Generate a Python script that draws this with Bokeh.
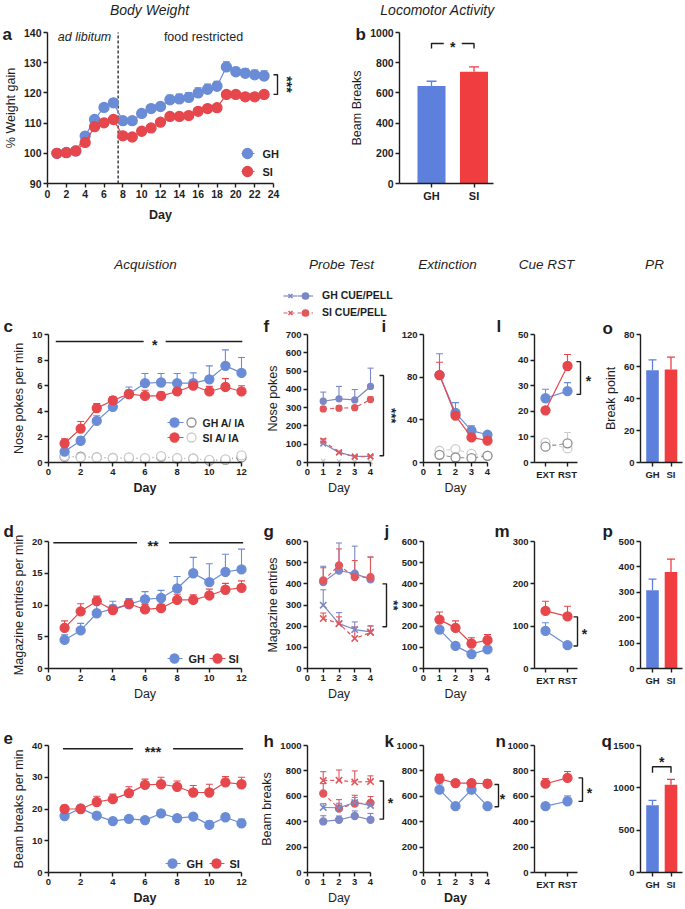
import math
from bokeh.plotting import figure
from bokeh.models import (Range1d, Whisker, ColumnDataSource, Label, Legend, LegendItem,
                          TeeHead, FixedTicker)
from bokeh.layouts import column, row
from bokeh.embed import file_html
from bokeh.resources import INLINE
from bokeh.core.properties import value

FONT = "Liberation Sans"
INK = "#1e1e1e"
BLUE = "#6a8cd6"
RED = "#e5474c"
BLUE_BAR = "#5d80dc"
RED_BAR = "#f03d40"
BLUE_P = "#7c87c6"
RED_P = "#e0585c"
GREY_D = "#8e8e8e"
GREY_L = "#cdcdcd"

# ---------------- data ----------------
days23 = list(range(1, 24))
days12 = list(range(1, 13))
days4 = [1, 2, 3, 4]
phase_pos = [0, 1]
phase_labels = ["EXT", "RST"]
group_pos = [0, 1]
group_labels = ["GH", "SI"]
switch_day = 7.5

# a: body weight
bw_gh = [100.0, 100.3, 100.8, 105.7, 111.2, 115.2, 116.7, 110.8, 110.8, 113.2, 114.8, 115.5,
         117.7, 118.0, 118.5, 120.0, 121.2, 122.2, 128.6, 127.0, 126.5, 126.0, 125.6]
bw_gh_err = [0.3, 0.5, 0.6, 0.8, 1.0, 1.2, 1.1, 0.9, 0.9, 1.1, 1.2, 1.3,
             1.6, 1.6, 1.6, 1.7, 1.7, 1.6, 1.7, 1.5, 1.5, 1.6, 1.7]
bw_si = [100.0, 100.2, 100.8, 103.6, 108.8, 110.1, 111.2, 105.8, 105.4, 107.3, 108.4, 110.3,
         112.2, 112.2, 112.5, 113.9, 114.8, 115.1, 119.5, 119.5, 118.7, 118.7, 119.5]
bw_si_err = [0.2, 0.4, 0.5, 0.7, 0.8, 0.8, 0.8, 0.7, 0.7, 0.7, 0.8, 0.8,
             0.8, 0.8, 0.8, 0.8, 0.8, 0.8, 0.9, 0.8, 0.8, 0.8, 0.8]

# b: locomotor
loco = [645, 740]
loco_err = [32, 32]

# c: acquisition nose pokes
c_gh = [0.85, 1.7, 3.25, 4.35, 5.35, 6.2, 6.25, 6.2, 6.2, 6.5, 7.55, 7.0]
c_gh_err = [0.3, 0.3, 0.4, 0.4, 0.55, 0.75, 0.7, 0.75, 0.8, 1.05, 1.25, 1.2]
c_si = [1.5, 2.65, 4.25, 4.85, 5.35, 5.2, 5.2, 5.55, 6.0, 5.55, 5.9, 5.55]
c_si_err = [0.35, 0.55, 0.35, 0.3, 0.3, 0.45, 0.3, 0.35, 0.3, 0.4, 0.65, 0.45]
c_gh_ia = [0.45, 0.45, 0.4, 0.35, 0.35, 0.3, 0.45, 0.3, 0.3, 0.15, 0.2, 0.4]
c_si_ia = [0.5, 0.4, 0.4, 0.35, 0.4, 0.35, 0.5, 0.35, 0.3, 0.2, 0.25, 0.55]

# d: magazine entries
d_gh = [4.5, 6.0, 8.7, 9.4, 10.1, 10.9, 11.1, 12.6, 15.0, 13.6, 15.2, 15.6]
d_gh_err = [0.8, 1.1, 1.6, 1.2, 0.9, 1.2, 1.2, 1.9, 2.5, 2.9, 2.8, 3.2]
d_si = [6.4, 9.0, 10.6, 9.2, 10.2, 9.3, 9.5, 10.8, 10.8, 11.5, 12.4, 12.7]
d_si_err = [1.1, 1.2, 0.8, 0.8, 0.6, 0.8, 0.6, 0.9, 0.8, 1.0, 1.0, 1.1]

# e: beam breaks
e_gh = [17.8, 20.2, 17.9, 16.2, 16.9, 16.5, 18.6, 17.1, 17.6, 15.0, 17.4, 15.5]
e_gh_err = [0.9, 1.0, 0.9, 0.8, 0.8, 0.8, 1.0, 0.9, 0.8, 1.2, 1.2, 1.3]
e_si = [20.0, 20.0, 22.2, 23.1, 25.0, 27.6, 27.8, 27.0, 25.2, 25.2, 28.4, 27.8]
e_si_err = [1.2, 1.0, 1.8, 1.6, 2.0, 1.8, 2.2, 1.8, 2.2, 2.6, 1.8, 2.2]

# f: probe test nose pokes
f_gh_pell = [335, 348, 342, 416]
f_gh_pell_err = [50, 68, 57, 100]
f_si_pell = [293, 297, 300, 344]
f_si_pell_err = [12, 12, 10, 15]
f_gh_cue = [104, 55, 33, 33]
f_gh_cue_err = [8, 5, 4, 4]
f_si_cue = [119, 55, 31, 33]
f_si_cue_err = [10, 6, 4, 4]
f_inactive = [8, 7, 4, 3]

# g: probe test magazine entries
g_gh_pell = [408, 463, 448, 421]
g_gh_pell_err = [75, 130, 130, 105]
g_si_pell = [416, 487, 432, 432]
g_si_pell_err = [60, 78, 78, 95]
g_gh_cue = [299, 212, 184, 173]
g_gh_cue_err = [73, 52, 36, 28]
g_si_cue = [236, 212, 142, 170]
g_si_cue_err = [26, 32, 54, 31]

# h: probe test beam breaks
h_gh_pell = [402, 415, 445, 415]
h_gh_pell_err = [45, 30, 40, 50]
h_si_pell = [622, 504, 543, 548]
h_si_pell_err = [78, 70, 65, 50]
h_gh_cue = [512, 510, 551, 528]
h_gh_cue_err = [30, 35, 40, 35]
h_si_cue = [724, 727, 712, 716]
h_si_cue_err = [70, 80, 88, 45]

# i: extinction nose pokes
i_gh = [82, 46.6, 29.9, 26]
i_gh_err = [20, 9.5, 4.5, 2.5]
i_si = [82, 44, 23.6, 20.5]
i_si_err = [12, 5, 2, 2]
i_gh_ia = [7.2, 4.7, 4.1, 6.3]
i_si_ia = [11, 12.6, 8, 6.5]

# j: extinction magazine entries
j_gh = [184, 107, 68, 90]
j_gh_err = [8, 8, 6, 10]
j_si = [231, 192, 118, 134]
j_si_err = [36, 33, 27, 26]

# k: extinction beam breaks
k_gh = [652, 522, 652, 522]
k_gh_err = [45, 15, 40, 15]
k_si = [738, 704, 704, 699]
k_si_err = [35, 25, 25, 30]

# l: cue reinstatement nose pokes
l_gh = [25.1, 27.9]
l_gh_err = [3.5, 3.3]
l_si = [20.4, 37.7]
l_si_err = [1.0, 4.5]
l_gh_ia = [6.2, 7.5]
l_gh_ia_err = [2.2, 4.2]
l_si_ia = [7.8, 5.5]

# m: cue reinstatement magazine entries
m_gh = [89, 55]
m_gh_err = [19, 4]
m_si = [136, 123]
m_si_err = [23, 24]

# n: cue reinstatement beam breaks
n_gh = [522, 561]
n_gh_err = [12, 42]
n_si = [699, 745]
n_si_err = [40, 50]

# o, p, q: progressive ratio
o_vals = [57.6, 58.2]
o_err = [6.6, 7.7]
p_vals = [308, 380]
p_err = [44, 51]
q_vals = [793, 1037]
q_err = [59, 62]


# ---------------- helpers ----------------
def style_axis(ax, tick_size):
    ax.axis_line_color = INK
    ax.axis_line_width = 1.4
    ax.major_tick_line_color = INK
    ax.major_tick_line_width = 1.4
    ax.major_tick_out = 4
    ax.major_tick_in = 0
    ax.minor_tick_line_color = None
    ax.major_label_text_font = FONT
    ax.major_label_text_font_size = tick_size
    ax.major_label_text_font_style = "bold"
    ax.major_label_text_color = INK
    ax.major_label_standoff = 2
    ax.axis_label_text_font = FONT
    ax.axis_label_text_font_size = "12.5px"
    ax.axis_label_text_font_style = "normal"
    ax.axis_label_text_color = INK
    ax.axis_label_standoff = 3


class Panel:
    """One strip of the page; axes are pinned inside the frame with fixed_location."""

    def __init__(self, strip, xmap, ymap, xbounds, ybounds, xticks, yticks,
                 xlabel=None, ylabel=None, xlabel_bold=False, xtick_text=None,
                 tick_size="9.5px"):
        self.sx0, self.sy0, self.sx1, self.sy1 = strip
        dx0, px0, dx1, px1 = xmap
        dy0, py0, dy1, py1 = ymap
        self.kx = (px1 - px0) / (dx1 - dx0)
        self.ky = (py0 - py1) / (dy1 - dy0)
        self.dx0, self.px0, self.dy0, self.py0 = dx0, px0, dy0, py0
        p = figure(width=self.sx1 - self.sx0, height=self.sy1 - self.sy0,
                   x_range=Range1d(self.dx(self.sx0), self.dx(self.sx1)),
                   y_range=Range1d(self.dy(self.sy1), self.dy(self.sy0)),
                   min_border_left=0, min_border_right=0,
                   min_border_top=0, min_border_bottom=0,
                   output_backend="svg", toolbar_location=None, title=None)
        p.outline_line_color = None
        p.xgrid.visible = False
        p.ygrid.visible = False
        p.background_fill_color = "white"
        p.border_fill_color = "white"
        xa, ya = p.xaxis[0], p.yaxis[0]
        style_axis(xa, tick_size)
        style_axis(ya, tick_size)
        xa.ticker = FixedTicker(ticks=list(xticks))
        ya.ticker = FixedTicker(ticks=list(yticks))
        xa.bounds = xbounds
        ya.bounds = ybounds
        xa.fixed_location = ybounds[0]
        ya.fixed_location = xbounds[0]
        if xtick_text:
            xa.major_label_overrides = {t: s for t, s in zip(xticks, xtick_text)}
        if xlabel:
            xa.axis_label = xlabel
            xa.axis_label_text_font_style = "bold" if xlabel_bold else "normal"
        if ylabel:
            ya.axis_label = ylabel
        self.p = p

    def dx(self, X):
        return self.dx0 + (X - self.px0) / self.kx

    def dy(self, Y):
        return self.dy0 + (self.py0 - Y) / self.ky

    def text(self, X, Y, s, size="12px", style="normal", align="center", baseline="middle",
             angle=0.0, color=INK):
        self.p.add_layout(Label(x=X - self.sx0, y=self.sy1 - Y, x_units="screen",
                                y_units="screen", text=s, text_font=FONT, text_font_size=size,
                                text_font_style=style, text_align=align,
                                text_baseline=baseline, angle=angle, text_color=color))

    def star(self, x, y, s, angle=0.0, size="14px"):
        self.p.add_layout(Label(x=x, y=y, text=s, text_font=FONT, text_font_size=size,
                                text_font_style="bold", text_align="center",
                                text_baseline="middle", angle=angle, text_color=INK,
                                y_offset=-3 if angle == 0 else 0))

    def err(self, x, y, e, color, cap=7, lw=1.1):
        src = ColumnDataSource(dict(x=list(x), lo=list(y), hi=[a + b for a, b in zip(y, e)]))
        self.p.add_layout(Whisker(base="x", lower="lo", upper="hi", source=src,
                                  line_color=color, line_width=lw, level="underlay",
                                  upper_head=TeeHead(size=cap, line_color=color, line_width=lw),
                                  lower_head=None))

    def series(self, x, y, e, color, marker="circle", size=9, dash="solid", fill=True,
               lw=1.2, cap=7, ecolor=None, line_color=None):
        if e is not None:
            self.err(x, y, e, ecolor or color, cap=cap)
        rl = self.p.line(x, y, line_color=line_color or color, line_width=lw, line_dash=dash)
        if marker == "x":
            rs = self.p.scatter(x, y, marker="x", size=size, line_color=color, line_width=1.6)
        else:
            rs = self.p.scatter(x, y, marker=marker, size=size,
                                fill_color=color if fill else "white",
                                line_color=color, line_width=1.3)
        return rl, rs

    def bars(self, vals, errs, width, cap=9):
        self.p.vbar(x=group_pos, top=vals, width=width,
                    fill_color=[BLUE_BAR, RED_BAR], line_color=None)
        for gx, v, e, c in zip(group_pos, vals, errs, [BLUE_BAR, RED_BAR]):
            self.err([gx], [v], [e], c, cap=cap, lw=1.3)

    def bracket(self, x, y1, y2, tick_px=4):
        d = tick_px / self.kx
        self.p.line([x - d, x, x, x - d], [y1, y1, y2, y2], line_color=INK, line_width=1.4)

    def hbracket(self, x1, x2, y, tick_px=5, gap_px=0):
        d = tick_px / self.ky
        if gap_px:
            g = gap_px / self.kx
            m = (x1 + x2) / 2
            self.p.line([x1, x1, m - g], [y - d, y, y], line_color=INK, line_width=1.4)
            self.p.line([m + g, x2, x2], [y, y, y - d], line_color=INK, line_width=1.4)
        else:
            self.p.line([x1, x1, x2, x2], [y - d, y, y, y - d], line_color=INK, line_width=1.4)

    def key(self, X1, X2, Xc, Y, color, size=9, fill=True, dash="solid"):
        y = self.dy(Y)
        self.p.line([self.dx(X1), self.dx(X2)], [y, y], line_color=color, line_width=1.2,
                    line_dash=dash)
        self.p.scatter([self.dx(Xc)], [y], marker="circle", size=size,
                       fill_color=color if fill else "white", line_color=color, line_width=1.3)


def letter(panel, X, Y, s):
    panel.text(X, Y, s, size="17px", style="bold", align="left", baseline="top")


def sigline(panel, x1, x2, y, gap_x, s):
    m = (x1 + x2) / 2 if gap_x is None else gap_x
    g = 11 / panel.kx if len(s) == 1 else (8 + 4 * len(s)) / panel.kx
    panel.p.line([x1, m - g], [y, y], line_color=INK, line_width=1.4)
    panel.p.line([m + g, x2], [y, y], line_color=INK, line_width=1.4)
    panel.star(m, y, s)


# strip boundaries (page pixels) between probe-test / extinction / cue-RST columns
S2, S3, S4 = 399, 400, 396
T2, T3, T4 = 512, 512, 507

# ---------------- row 1 ----------------
A = Panel((0, 0, 345, 228), (0, 47, 24, 273), (90, 183, 140, 32),
          (0, 24), (90, 140), range(0, 25, 2), range(90, 141, 10),
          xlabel="Day", ylabel="% Weight gain", xlabel_bold=True, tick_size="10.5px")
A.p.xaxis[0].axis_label_standoff = 7
A.p.line([switch_day, switch_day], [90, 140], line_color=INK, line_dash="3 2", line_width=1.3)
A.series(days23, bw_gh, bw_gh_err, BLUE, size=10, cap=7)
A.series(days23, bw_si, bw_si_err, RED, size=10, cap=7)
A.bracket(A.dx(277), 126.0, 119.5)
A.star(A.dx(286), 122.8, "***", angle=-math.pi / 2, size="14px")
A.text(149, 9, "Body Weight", size="14px", style="italic")
A.text(84, 36, "ad libitum", size="12.5px", style="italic")
A.text(203, 36, "food restricted", size="12.5px")
A.key(241, 254, 247, 153, BLUE, size=10)
A.key(241, 254, 247, 171, RED, size=10)
A.text(262, 153, "GH", size="11px", style="bold", align="left")
A.text(262, 171, "SI", size="11px", style="bold", align="left")
letter(A, 2, 24, "a")

B = Panel((345, 0, 685, 228), (0, 431, 1, 473.5), (0, 183, 1000, 32),
          (-0.75, 1.45), (0, 1000), group_pos, range(0, 1001, 200),
          ylabel="Beam Breaks", xtick_text=group_labels, tick_size="10.5px")
B.p.xaxis[0].major_label_text_font_size = "11px"
B.bars(loco, loco_err, 0.66, cap=10)
B.hbracket(0, 1, 927, tick_px=5, gap_px=9)
B.star(0.5, 927, "*")
B.text(437, 9, "Locomotor Activity", size="14px", style="italic")
letter(B, 355, 24, "b")

# ---------------- row 2 ----------------
C = Panel((0, 228, 250, 500), (0, 48, 12, 241), (0, 462, 10, 334),
          (0, 12), (0, 10), range(0, 13, 2), range(0, 11, 2),
          xlabel="Day", ylabel="Nose pokes per min", xlabel_bold=True)
C.series(days12, c_gh_ia, None, GREY_D, size=9, fill=False, dash="1 3", lw=1.0)
C.series(days12, c_si_ia, None, GREY_L, size=9, fill=False, dash="1 3", lw=1.0)
C.series(days12, c_gh, c_gh_err, BLUE, size=9)
C.series(days12, c_si, c_si_err, RED, size=9)
sigline(C, 0.45, 12.05, 9.45, 6.6, "*")
C.key(167, 183, 174, 422, BLUE, size=9)
C.key(187, 195, 191, 422, GREY_D, size=9, fill=False, dash="1 3")
C.text(202, 422, "GH A/ IA", size="10.5px", style="bold", align="left")
C.key(167, 183, 174, 437, RED, size=9)
C.key(187, 195, 191, 437, GREY_L, size=9, fill=False, dash="1 3")
C.text(202, 437, "SI A/ IA", size="10.5px", style="bold", align="left")
C.text(145, 264, "Acquistion", size="13.5px", style="italic")
letter(C, 3, 316, "c")

F = Panel((250, 228, S2, 500), (0, 307, 4, 370), (0, 462, 700, 334),
          (0, 4), (0, 700), range(0, 5), range(0, 701, 100),
          xlabel="Day", ylabel="Nose pokes")
F.p.scatter(days4, f_inactive, marker="x", size=6, line_color=GREY_L, line_width=1.3)
f_ghp = F.series(days4, f_gh_pell, f_gh_pell_err, BLUE_P, size=6, cap=6)
f_sip = F.series(days4, f_si_pell, f_si_pell_err, RED_P, size=6, dash="4 3", cap=6)
f_ghc = F.series(days4, f_gh_cue, f_gh_cue_err, BLUE_P, marker="x", size=8, cap=6)
f_sic = F.series(days4, f_si_cue, f_si_cue_err, RED_P, marker="x", size=8, dash="4 3", cap=6)
F.bracket(F.dx(383), 476, 37)
F.star(F.dx(391), 256, "***", angle=-math.pi / 2, size="13px")
F.text(341, 264, "Probe Test", size="13.5px", style="italic")
legA = Legend(items=[LegendItem(label=value(""), renderers=list(f_ghc)),
                     LegendItem(label=value(""), renderers=list(f_sic))],
              location=(283 - F.sx0, F.sy1 - 320.5), glyph_width=14, glyph_height=17,
              label_height=17, label_width=0, label_standoff=0, spacing=0, padding=0, margin=0,
              border_line_color=None, background_fill_alpha=0)
legB = Legend(items=[LegendItem(label="GH CUE/PELL", renderers=list(f_ghp)),
                     LegendItem(label="SI CUE/PELL", renderers=list(f_sip))],
              location=(297 - F.sx0, F.sy1 - 320.5), glyph_width=16, glyph_height=17,
              label_height=17, label_standoff=9, spacing=0, padding=0, margin=0,
              border_line_color=None, background_fill_alpha=0,
              label_text_font=FONT, label_text_font_size="10.5px", label_text_font_style="bold",
              label_text_color=INK)
F.p.add_layout(legA)
F.p.add_layout(legB)
letter(F, 263, 316, "f")
letter(F, 381, 316, "i")

I = Panel((S2, 228, T2, 500), (0, 423, 4, 487), (0, 462, 120, 334),
          (0, 4), (0, 120), range(0, 5), [0, 40, 80, 120], xlabel="Day")
I.series(days4, i_si_ia, None, GREY_L, size=9, fill=False, dash="4 3", lw=1.0)
I.series(days4, i_gh_ia, None, GREY_D, size=9, fill=False, dash="4 3", lw=1.0)
I.series(days4, i_gh, i_gh_err, BLUE, size=9)
I.series(days4, i_si, i_si_err, RED, size=9)
I.text(447, 264, "Extinction", size="13.5px", style="italic")
letter(I, 496, 316, "l")

L = Panel((T2, 228, 598, 500), (0, 545, 1, 567), (0, 462, 50, 334),
          (-0.5, 1.45), (0, 50), phase_pos, range(0, 51, 10), xtick_text=phase_labels)
L.series(phase_pos, l_si_ia, None, GREY_L, size=9, fill=False, dash="4 3", lw=1.0)
L.series(phase_pos, l_gh_ia, l_gh_ia_err, GREY_D, size=9, fill=False, dash="4 3", lw=1.0,
         ecolor=GREY_L)
L.series(phase_pos, l_gh, l_gh_err, BLUE, size=9)
L.series(phase_pos, l_si, l_si_err, RED, size=9)
L.bracket(L.dx(580), 39.4, 26.6)
L.star(L.dx(588), 33.0, "*")
L.text(546, 264, "Cue RST", size="13.5px", style="italic")

O = Panel((598, 228, 685, 500), (0, 652, 1, 670.5), (0, 462, 80, 334),
          (-0.65, 1.6), (0, 80), group_pos, range(0, 81, 20),
          ylabel="Break point", xtick_text=group_labels)
O.bars(o_vals, o_err, 0.68, cap=8)
O.text(654, 264, "PR", size="13.5px", style="italic")
letter(O, 602, 318, "o")

# ---------------- row 3 ----------------
D = Panel((0, 500, 250, 702), (0, 48, 12, 241), (0, 668, 20, 541),
          (0, 12), (0, 20), range(0, 13, 2), range(0, 21, 5),
          xlabel="Day", ylabel="Magazine entries per min")
D.series(days12, d_gh, d_gh_err, BLUE, size=9)
D.series(days12, d_si, d_si_err, RED, size=9)
sigline(D, 0.3, 12.1, 19.8, 6.5, "**")
D.key(167, 182, 174, 658, BLUE, size=9)
D.text(188, 658, "GH", size="11px", style="bold", align="left")
D.key(209, 225, 217, 658, RED, size=9)
D.text(228, 658, "SI", size="11px", style="bold", align="left")
letter(D, 3, 521, "d")

G = Panel((250, 500, S3, 702), (0, 307, 4, 370), (0, 668, 600, 541),
          (0, 4), (0, 600), range(0, 5), range(0, 601, 100),
          xlabel="Day", ylabel="Magazine entries")
G.series(days4, g_gh_pell, g_gh_pell_err, BLUE_P, size=7, cap=6)
G.series(days4, g_si_pell, g_si_pell_err, RED_P, size=7, dash="4 3", cap=6)
G.series(days4, g_gh_cue, g_gh_cue_err, BLUE_P, marker="x", size=9, cap=6)
G.series(days4, g_si_cue, g_si_cue_err, RED_P, marker="x", size=9, dash="4 3", cap=6)
G.bracket(G.dx(386), 400, 197)
G.star(G.dx(393), 298, "**", angle=-math.pi / 2, size="13px")
letter(G, 263, 521, "g")
letter(G, 384, 521, "j")

J = Panel((S3, 500, T3, 702), (0, 423, 4, 487), (0, 668, 600, 541),
          (0, 4), (0, 600), range(0, 5), range(0, 601, 100), xlabel="Day")
J.series(days4, j_gh, j_gh_err, BLUE, size=9)
J.series(days4, j_si, j_si_err, RED, size=9)
letter(J, 494, 521, "m")

M = Panel((T3, 500, 598, 702), (0, 545, 1, 567), (0, 668, 300, 541),
          (-0.5, 1.45), (0, 300), phase_pos, range(0, 301, 100), xtick_text=phase_labels)
M.series(phase_pos, m_gh, m_gh_err, BLUE, size=9)
M.series(phase_pos, m_si, m_si_err, RED, size=9)
M.bracket(M.dx(577), 122, 53)
M.star(M.dx(584), 88, "*")

P = Panel((598, 500, 685, 702), (0, 652, 1, 670.5), (0, 668, 500, 541),
          (-0.65, 1.6), (0, 500), group_pos, range(0, 501, 100), xtick_text=group_labels)
P.bars(p_vals, p_err, 0.68, cap=8)
letter(P, 602, 521, "p")

# ---------------- row 4 ----------------
E = Panel((0, 702, 250, 909), (0, 48, 12, 241), (0, 872, 40, 745),
          (0, 12), (0, 40), range(0, 13, 2), range(0, 41, 10),
          xlabel="Day", ylabel="Beam breaks per min", xlabel_bold=True)
E.series(days12, e_gh, e_gh_err, BLUE, size=9)
E.series(days12, e_si, e_si_err, RED, size=9)
sigline(E, 0.9, 12.1, 39.0, 6.5, "***")
E.key(165, 180, 172, 863, BLUE, size=9)
E.text(186, 863, "GH", size="11px", style="bold", align="left")
E.key(209, 224, 216, 863, RED, size=9)
E.text(229, 863, "SI", size="11px", style="bold", align="left")
letter(E, 3, 731, "e")

H = Panel((250, 702, S4, 909), (0, 307, 4, 370), (0, 872, 1000, 745),
          (0, 4), (0, 1000), range(0, 5), range(0, 1001, 200),
          xlabel="Day", ylabel="Beam breaks")
H.series(days4, h_gh_pell, h_gh_pell_err, BLUE_P, size=7, cap=6)
H.series(days4, h_si_pell, h_si_pell_err, RED_P, size=7, dash="4 3", cap=6)
H.series(days4, h_gh_cue, h_gh_cue_err, BLUE_P, marker="x", size=9, cap=6)
H.series(days4, h_si_cue, h_si_cue_err, RED_P, marker="x", size=9, dash="4 3", cap=6)
H.bracket(H.dx(383), 720, 420)
H.star(H.dx(390), 570, "*")
letter(H, 263, 731, "h")
letter(H, 384, 731, "k")

K = Panel((S4, 702, T4, 909), (0, 423, 4, 487), (0, 872, 1000, 745),
          (0, 4), (0, 1000), range(0, 5), range(0, 1001, 200), xlabel="Day", xlabel_bold=True)
K.series(days4, k_gh, k_gh_err, BLUE, size=9)
K.series(days4, k_si, k_si_err, RED, size=9)
K.bracket(K.dx(498), 693, 518)
K.star(K.dx(502), 605, "*")
letter(K, 495, 731, "n")

N = Panel((T4, 702, 598, 909), (0, 545, 1, 567), (0, 872, 1000, 745),
          (-0.5, 1.45), (0, 1000), phase_pos, range(0, 1001, 200), xtick_text=phase_labels)
N.series(phase_pos, n_gh, n_gh_err, BLUE, size=9)
N.series(phase_pos, n_si, n_si_err, RED, size=9)
N.bracket(N.dx(582), 745, 560)
N.star(N.dx(589), 652, "*")

Q = Panel((598, 702, 685, 909), (0, 652, 1, 670.5), (0, 872, 1500, 745),
          (-0.65, 1.6), (0, 1500), group_pos, range(0, 1501, 500), xtick_text=group_labels)
Q.bars(q_vals, q_err, 0.68, cap=8)
Q.hbracket(0, 1, 1249, tick_px=6)
Q.star(0.5, 1335, "*")
letter(Q, 601, 731, "q")

layout = column(
    row(A.p, B.p),
    row(C.p, F.p, I.p, L.p, O.p),
    row(D.p, G.p, J.p, M.p, P.p),
    row(E.p, H.p, K.p, N.p, Q.p),
)

open("out.html", "w").write(file_html(layout, INLINE))
